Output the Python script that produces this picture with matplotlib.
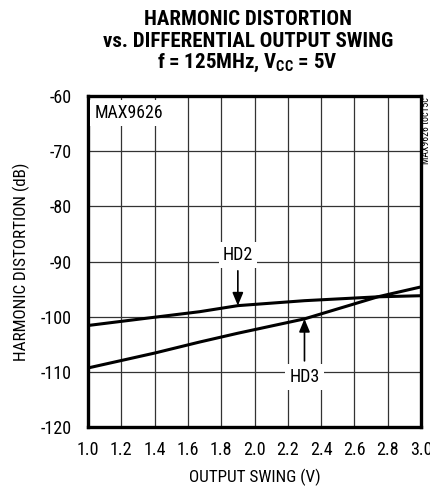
import numpy as np
import matplotlib.pyplot as plt

# values
swing = [1.0, 1.4, 1.67, 1.9, 2.3, 2.74, 3.0]
hd2 = [-101.6, -100.1, -99.1, -98.0, -97.1, -96.4, -96.2]
hd3 = [-109.3, -106.6, -104.6, -103.0, -100.4, -96.4, -94.6]

xticks = [1.0, 1.2, 1.4, 1.6, 1.8, 2.0, 2.2, 2.4, 2.6, 2.8, 3.0]
yticks = [-60, -70, -80, -90, -100, -110, -120]

# condensed face if one exists, otherwise an Arial-like sans
plt.rcParams['font.family'] = ['Roboto Condensed', 'Liberation Sans Narrow',
                               'Liberation Sans', 'DejaVu Sans']

fig = plt.figure(figsize=(4.31, 4.86), dpi=100)
ax = fig.add_axes([0.204, 0.1214, 0.773, 0.681])

ax.plot(swing, hd2, color='black', lw=2.2, zorder=4)
ax.plot(swing, hd3, color='black', lw=2.2, zorder=4)

ax.set_xlim(1.0, 3.0)
ax.set_ylim(-120, -60)
ax.set_xticks(xticks)
ax.set_xticklabels([f"{t:.1f}" for t in xticks])
ax.set_yticks(yticks)
ax.set_yticklabels([str(t) for t in yticks])
ax.tick_params(length=0, labelsize=13)
ax.tick_params(axis='x', pad=10)
ax.tick_params(axis='y', pad=12)
ax.grid(True, color='#333333', lw=0.9)
for s in ax.spines.values():
    s.set_linewidth(2.4)

ax.set_xlabel("OUTPUT SWING (V)", fontsize=12.3, labelpad=7)
ax.set_ylabel("HARMONIC DISTORTION (dB)", fontsize=12.3, labelpad=7)

box = dict(facecolor='white', edgecolor='none', pad=3)
ax.text(1.04, -63.1, "MAX9626", fontsize=12.8, va='center', ha='left', bbox=box, zorder=3)
ax.annotate("HD2", xy=(1.9, -98.0), xytext=(1.9, -88.8), fontsize=13,
            ha='center', va='center', bbox=box, zorder=5,
            arrowprops=dict(arrowstyle='-|>,head_length=0.6,head_width=0.25',
                            color='black', lw=1.2, shrinkA=2, shrinkB=0))
ax.annotate("HD3", xy=(2.3, -100.4), xytext=(2.3, -110.9), fontsize=13,
            ha='center', va='center', bbox=box, zorder=5,
            arrowprops=dict(arrowstyle='-|>,head_length=0.6,head_width=0.25',
                            color='black', lw=1.2, shrinkA=2, shrinkB=0))

fig.text(0.575, 0.9486, "HARMONIC DISTORTION", ha='center', va='baseline',
         fontsize=15, fontweight='black')
fig.text(0.575, 0.9033, "vs. DIFFERENTIAL OUTPUT SWING", ha='center', va='baseline',
         fontsize=15, fontweight='black')
fig.text(0.575, 0.860, r"f = 125MHz, V$\mathregular{_{CC}}$ = 5V", ha='center', va='baseline',
         fontsize=15, fontweight='black')

fig.text(0.988, 0.799, "MAX9626 toc15c", rotation=90, ha='center', va='top', fontsize=7)

fig.savefig("out.png", dpi=100)
